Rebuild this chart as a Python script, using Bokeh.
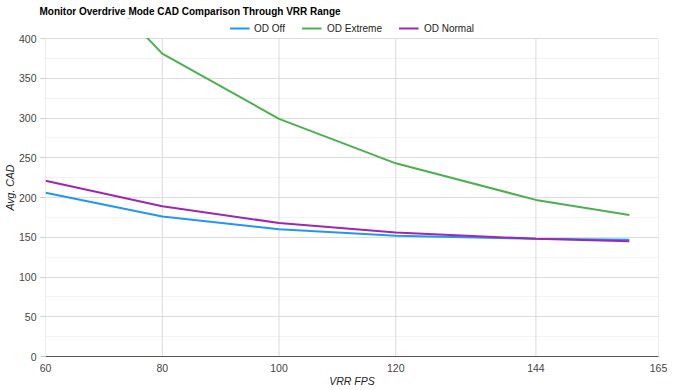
from bokeh.plotting import figure
from bokeh.models import Range1d, FixedTicker, Legend, LegendItem, BoxAnnotation
from bokeh.embed import file_html
from bokeh.resources import INLINE

fps = [60, 80, 100, 120, 144, 160]
od_off = [206, 176, 160, 152, 148, 147]
od_extreme = [535, 381, 299, 243, 197, 178]
od_normal = [221, 189, 168, 156, 148, 145]
x_ticks = [60, 80, 100, 120, 144, 165]
y_ticks = [0, 50, 100, 150, 200, 250, 300, 350, 400]
y_minor = [25, 75, 125, 175, 225, 275, 325, 375]
series_names = ["OD Off", "OD Extreme", "OD Normal"]
series_colors = ["#2196f3", "#4caf50", "#9c27b0"]
Y_MAX = 400
Y_HEADROOM = 425.2  # extra room above the data area for the legend

FONT = "Liberation Sans"

p = figure(width=675, height=390, output_backend="svg", toolbar_location=None,
           x_range=Range1d(60, 165), y_range=Range1d(0, Y_HEADROOM),
           min_border_left=44, min_border_right=17, min_border_top=18, min_border_bottom=34)
p.outline_line_color = None

p.title.text = "Monitor Overdrive Mode CAD Comparison Through VRR Range"
p.title.text_font = FONT
p.title.text_font_size = "10px"
p.title.text_font_style = "bold"
p.title.text_color = "#000000"
p.title.align = "left"
p.title.offset = -6
p.title.standoff = 3

# vertical grid lines limited to the data area
p.segment(x0=x_ticks, y0=[0] * len(x_ticks), x1=x_ticks, y1=[Y_MAX] * len(x_ticks),
          line_color="#d9d9d9", line_width=1)

renderers = []
for ys, c in zip([od_off, od_extreme, od_normal], series_colors):
    renderers.append(p.line(fps, ys, line_color=c, line_width=2))

# clip data above the top of the value axis
p.add_layout(BoxAnnotation(bottom=Y_MAX + 0.8, fill_color="white", fill_alpha=1.0,
                           line_color=None))

legend = Legend(items=[LegendItem(label=n, renderers=[r]) for n, r in zip(series_names, renderers)],
                orientation="horizontal", location="top",
                label_text_font=FONT, label_text_font_size="10px", label_text_color="#222222",
                glyph_width=20, glyph_height=12, label_height=12, label_standoff=5,
                spacing=17, padding=0, margin=4, border_line_color=None,
                background_fill_alpha=0)
p.add_layout(legend, "center")

p.xaxis.ticker = FixedTicker(ticks=x_ticks)
p.xaxis.axis_line_color = "#555555"
p.xaxis.major_tick_line_color = None
p.xaxis.major_tick_out = 0
p.xaxis.major_tick_in = 0
p.xaxis.minor_tick_line_color = None
p.xaxis.minor_tick_out = 0
p.xaxis.major_label_standoff = 7
p.xaxis.axis_label = "VRR FPS"
p.xaxis.axis_label_standoff = 0
p.xaxis.axis_label_text_font_style = "italic"

p.yaxis.ticker = FixedTicker(ticks=y_ticks, minor_ticks=y_minor)
p.yaxis.axis_line_color = None
p.yaxis.major_tick_line_color = "#cccccc"
p.yaxis.major_tick_out = 5
p.yaxis.major_tick_in = 0
p.yaxis.minor_tick_line_color = None
p.yaxis.minor_tick_out = 0
p.yaxis.major_label_standoff = 4
p.yaxis.axis_label = "Avg. CAD"
p.yaxis.axis_label_standoff = 0
p.yaxis.axis_label_text_font_style = "italic"

for ax in (p.xaxis, p.yaxis):
    ax.major_label_text_font = FONT
    ax.major_label_text_font_size = "10.5px"
    ax.major_label_text_color = "#444444"
    ax.axis_label_text_font = FONT
    ax.axis_label_text_font_size = "10.5px"
    ax.axis_label_text_color = "#222222"

p.xgrid.visible = False
p.ygrid.ticker = FixedTicker(ticks=y_ticks, minor_ticks=y_minor)
p.ygrid.grid_line_color = "#dddddd"
p.ygrid.minor_grid_line_color = "#f2f2f2"

open("out.html", "w").write(file_html(p, INLINE))
